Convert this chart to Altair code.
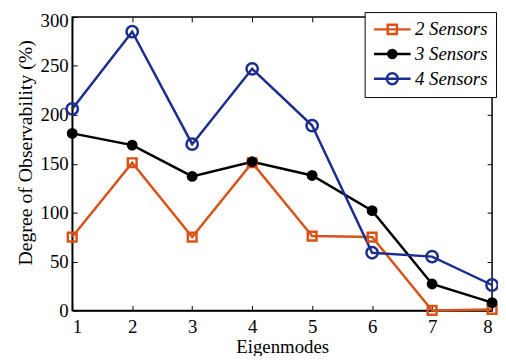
import altair as alt
import pandas as pd

modes = [1, 2, 3, 4, 5, 6, 7, 8]
series_names = ["2 Sensors", "3 Sensors", "4 Sensors"]
sensors2 = [75, 151, 75, 151, 76, 75, 0, 1]
sensors3 = [181, 169, 137, 152, 138, 102, 27, 8]
sensors4 = [206, 285, 170, 247, 189, 59, 55, 26]
colors = ["#D95319", "#000000", "#1B2E8F"]
marker_shapes = ["square", "circle", "circle"]
marker_fills = ["transparent", "#000000", "transparent"]
marker_sizes = [78, 72, 132]
legend_paths = [
    "M-1,0H1M-0.25,-0.25H0.25V0.25H-0.25Z",
    "M-1,0H1M0.22,0A0.22,0.22,0,1,1,-0.22,0A0.22,0.22,0,1,1,0.22,0Z",
    "M-1,0H1M0.3,0A0.3,0.3,0,1,1,-0.3,0A0.3,0.3,0,1,1,0.3,0Z",
]
x_ticks = [1, 2, 3, 4, 5, 6, 7, 8]
y_ticks = [0, 50, 100, 150, 200, 250, 300]

rows = []
for name, vals, shp, fil, sz in zip(series_names, [sensors2, sensors3, sensors4],
                                    marker_shapes, marker_fills, marker_sizes):
    for m, v in zip(modes, vals):
        rows.append({"mode": m, "value": v, "series": name, "shape": shp, "fill": fil, "size": sz})
df = pd.DataFrame(rows)

W, H = 425, 297
FONT = "Liberation Serif"

xs = alt.Scale(domain=[1, 8], nice=False, zero=False)
ys = alt.Scale(domain=[0, 300], nice=False)
cs = alt.Scale(domain=series_names, range=colors)

lines = alt.Chart(df).mark_line(strokeWidth=2.5).encode(
    x=alt.X("mode:Q", scale=xs, axis=alt.Axis(values=x_ticks, title="Eigenmodes", ticks=False,
                                              labelPadding=7, titlePadding=2, format="d")),
    y=alt.Y("value:Q", scale=ys, axis=alt.Axis(
        values=y_ticks, title="Degree of Observability (%)",
        ticks=False, labelPadding=4, titlePadding=5, titleY=137, titleFontSize=20,
        labelOffset={"condition": {"test": "datum.value == 300", "value": 4}, "value": 0})),
    color=alt.Color("series:N", scale=cs, legend=None),
)

points = alt.Chart(df).mark_point(strokeWidth=2.5, opacity=1).encode(
    x=alt.X("mode:Q", scale=xs, axis=None),
    y=alt.Y("value:Q", scale=ys, axis=None),
    color=alt.Color("series:N", scale=cs, legend=None),
    shape=alt.Shape("shape:N", scale=None),
    fill=alt.Fill("fill:N", scale=None),
    size=alt.Size("size:Q", scale=None),
)

tick_axis = dict(labels=False, domain=False, title=None, tickSize=5, tickColor="black", tickWidth=1, grid=False)
ticks_a = alt.Chart(df).mark_point(opacity=0).encode(
    x=alt.X("mode:Q", scale=xs, axis=alt.Axis(orient="top", offset=-H, values=x_ticks, **tick_axis)),
    y=alt.Y("value:Q", scale=ys, axis=alt.Axis(orient="right", offset=-W, values=y_ticks, **tick_axis)),
)
ticks_b = alt.Chart(df).mark_point(opacity=0).encode(
    x=alt.X("mode:Q", scale=xs, axis=alt.Axis(orient="bottom", offset=-H, values=x_ticks, **tick_axis)),
    y=alt.Y("value:Q", scale=ys, axis=alt.Axis(orient="left", offset=-W, values=y_ticks, **tick_axis)),
)

leg = alt.Legend(
    title=None, orient="none", legendX=296, legendY=-5, padding=8,
    strokeColor="black", fillColor="white", labelFont=FONT, labelFontStyle="italic",
    labelFontSize=19, labelColor="black", symbolSize=1369, symbolStrokeWidth=2.5, labelOffset=3,
    symbolOpacity=1, rowPadding=5, clipHeight=19, cornerRadius=0,
)
legend_layer = alt.Chart(df).transform_filter("false").mark_point(strokeWidth=2.5, opacity=1).encode(
    x=alt.X("mode:Q", scale=xs, axis=None),
    y=alt.Y("value:Q", scale=ys, axis=None),
    color=alt.Color("series:N", scale=cs, legend=leg),
    shape=alt.Shape("series:N", scale=alt.Scale(domain=series_names, range=legend_paths), legend=leg),
    fill=alt.Fill("series:N", scale=alt.Scale(domain=series_names, range=marker_fills), legend=leg),
)

chart = alt.layer(lines, ticks_a, ticks_b, points, legend_layer).resolve_axis(
    x="independent", y="independent"
).resolve_legend(
    color="independent", shape="independent", fill="independent"
).properties(
    width=W, height=H,
    autosize=alt.AutoSizeParams(type="none"),
    padding={"left": 65, "top": 7, "right": 6, "bottom": 44},
).configure_view(
    stroke="black", strokeWidth=1.5
).configure_axis(
    domainColor="black", domainWidth=1.5, labelColor="black", titleColor="black",
    labelFont=FONT, titleFont=FONT, labelFontSize=19, titleFontSize=19, titleFontWeight="normal",
    grid=False,
).configure_legend(
    labelFont=FONT, labelFontStyle="italic", labelFontSize=19, symbolStrokeWidth=2.5,
    symbolOpacity=1,
)

chart.save("out.html", embed_options={"renderer": "svg", "actions": False})
